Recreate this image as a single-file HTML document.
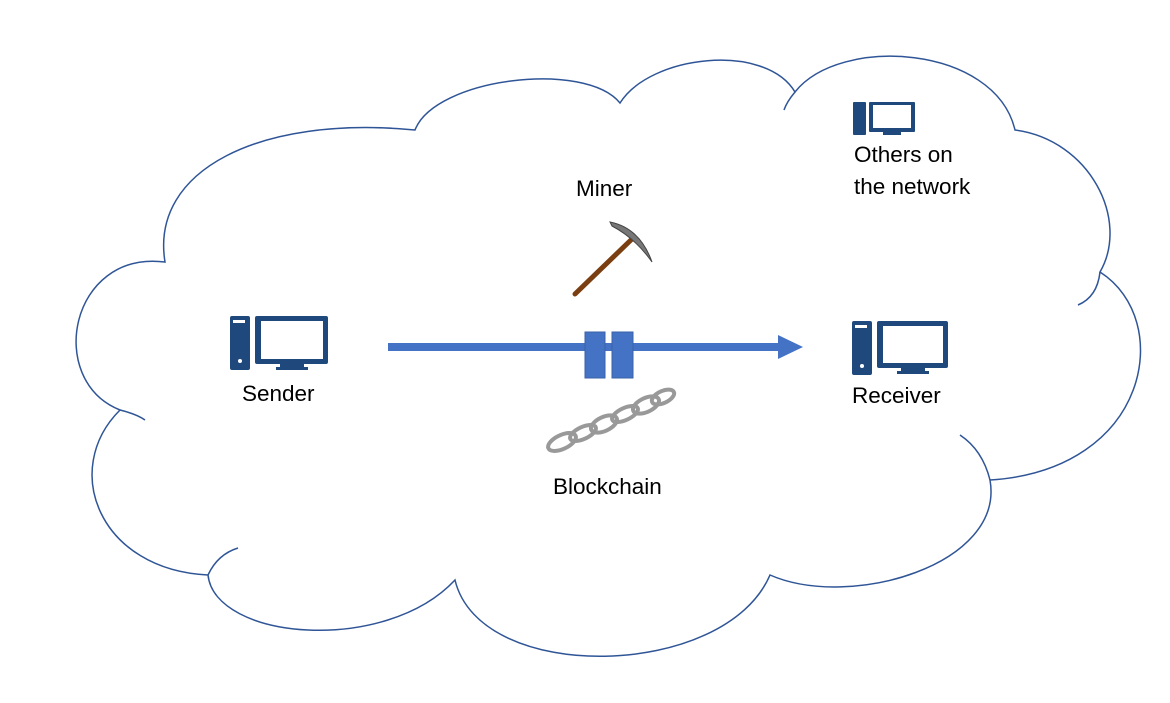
<!DOCTYPE html>
<html><head><meta charset="utf-8"><style>
body{margin:0;background:#fff;width:1170px;height:698px;overflow:hidden}
text{font-family:"Liberation Sans",sans-serif;font-size:22.5px;fill:#000}
</style></head><body>
<svg width="1170" height="698" viewBox="0 0 1170 698">
<path d="M165 262 C150 170 260 115 415 130 C435 78 585 60 620 103 C650 55 765 42 795 92 C840 35 995 45 1015 130 C1090 140 1130 220 1100 272 C1175 320 1150 470 990 480 C1005 565 850 610 770 575 C725 680 480 685 455 580 C385 655 215 640 208 575 C100 570 60 470 120 410 C45 380 70 250 165 262 Z" fill="#fff" stroke="#2f5597" stroke-width="1.5"/>
<path d="M1100 272 C1098 290 1090 300 1078 305" fill="none" stroke="#2f5597" stroke-width="1.5"/>
<path d="M990 480 C985 460 975 445 960 435" fill="none" stroke="#2f5597" stroke-width="1.5"/>
<path d="M208 575 C215 560 225 552 238 548" fill="none" stroke="#2f5597" stroke-width="1.5"/>
<path d="M120 410 C128 412 138 415 145 420" fill="none" stroke="#2f5597" stroke-width="1.5"/>
<path d="M795 92 C790 98 786 104 784 110" fill="none" stroke="#2f5597" stroke-width="1.5"/>
<g fill="#1f497d">
<rect x="230" y="316" width="20" height="54" rx="2"/>
<rect x="233" y="320" width="12" height="3" fill="#fff"/>
<circle cx="240" cy="361" r="2" fill="#fff"/>
<rect x="255" y="316" width="73" height="48" rx="2"/>
<rect x="261" y="321" width="62" height="38" fill="#fff"/>
<path d="M280 364 h24 v3 h4 v3 h-32 v-3 h4z"/>
<rect x="852" y="321" width="20" height="54" rx="2"/>
<rect x="855" y="325" width="12" height="3" fill="#fff"/>
<circle cx="862" cy="366" r="2" fill="#fff"/>
<rect x="877" y="321" width="71" height="47" rx="2"/>
<rect x="883" y="326" width="60" height="37" fill="#fff"/>
<path d="M901 368 h24 v3 h4 v3 h-32 v-3 h4z"/>
<rect x="853" y="102" width="13" height="33" rx="1"/>
<rect x="869" y="102" width="46" height="30" rx="1"/>
<rect x="873" y="105" width="38" height="23" fill="#fff"/>
<rect x="883" y="131" width="18" height="4"/>
</g>
<rect x="388" y="343" width="392" height="8" fill="#4472c4"/>
<path d="M778 335 L803 347 L778 359 Z" fill="#4472c4"/>
<rect x="585" y="332" width="20" height="46" fill="#4472c4" stroke="#3a62a8"/>
<rect x="612" y="332" width="21" height="46" fill="#4472c4" stroke="#3a62a8"/>
<line x1="575" y1="294" x2="633" y2="238" stroke="#7a3e10" stroke-width="5" stroke-linecap="round"/>
<path d="M610 222 Q640 228 652 262 Q635 238 612 226 Z" fill="#777" stroke="#444" stroke-width="1"/>
<g fill="none" stroke="#999" stroke-width="4">
<ellipse cx="562" cy="442" rx="15" ry="7" transform="rotate(-25 562 442)"/>
<ellipse cx="583" cy="433" rx="14" ry="6" transform="rotate(-25 583 433)"/>
<ellipse cx="604" cy="424" rx="14" ry="7" transform="rotate(-25 604 424)"/>
<ellipse cx="625" cy="414" rx="14" ry="6" transform="rotate(-25 625 414)"/>
<ellipse cx="646" cy="405" rx="14" ry="7" transform="rotate(-25 646 405)"/>
<ellipse cx="663" cy="397" rx="12" ry="6" transform="rotate(-25 663 397)"/>
</g>
<text x="242" y="401">Sender</text>
<text x="576" y="196">Miner</text>
<text x="553" y="494">Blockchain</text>
<text x="852" y="403">Receiver</text>
<text x="854" y="162">Others on</text>
<text x="854" y="194">the network</text>
</svg>
</body></html>
